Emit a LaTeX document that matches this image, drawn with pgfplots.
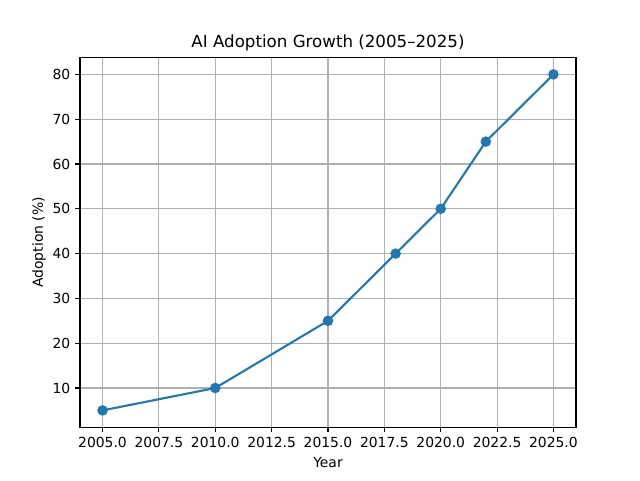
\documentclass[border=0pt]{standalone}
\usepackage{fontspec}
\setmainfont{DejaVu Sans}
\usepackage{pgfplots}
\pgfplotsset{compat=1.18}
\definecolor{mplblue}{HTML}{1F77B4}
\definecolor{mplgrid}{HTML}{B0B0B0}
\begin{document}
\begin{tikzpicture}
\begin{axis}[
  scale only axis,
  width=357.12pt, height=266.112pt,
  xmin=2004, xmax=2026, ymin=1.25, ymax=83.75,
  xtick={2005,2007.5,2010,2012.5,2015,2017.5,2020,2022.5,2025},
  ytick={10,20,30,40,50,60,70,80},
  xticklabel style={/pgf/number format/.cd,fixed,fixed zerofill,precision=1,1000 sep={}},
  /pgf/number format/assume math mode=true,
  tick label style={font=\fontsize{10}{12}\selectfont},
  label style={font=\fontsize{10}{12}\selectfont},
  title style={font=\fontsize{12}{14}\selectfont, yshift=-4.5pt},
  title={AI Adoption Growth (2005–2025)},
  xlabel={Year}, ylabel={Adoption (\%)},
  grid=major,
  grid style={mplgrid, line width=0.8pt},
  axis line style={line width=0.8pt},
  tick style={black, line width=0.8pt},
  tick align=outside, major tick length=3.5pt,
  xtick pos=bottom, ytick pos=left,
  xlabel style={yshift=0pt},
  ylabel style={yshift=-2pt},
]
\addplot[mplblue, line width=1.5pt, mark=*, mark size=3pt, mark options={fill=mplblue, draw=mplblue}]
coordinates {(2005,5) (2010,10) (2015,25) (2018,40) (2020,50) (2022,65) (2025,80)};
\end{axis}
\pgfresetboundingbox
\path ([shift={(-57.6pt,-38.016pt)}]current axis.south west) rectangle ([shift={(46.08pt,41.472pt)}]current axis.north east);
\end{tikzpicture}
\end{document}
